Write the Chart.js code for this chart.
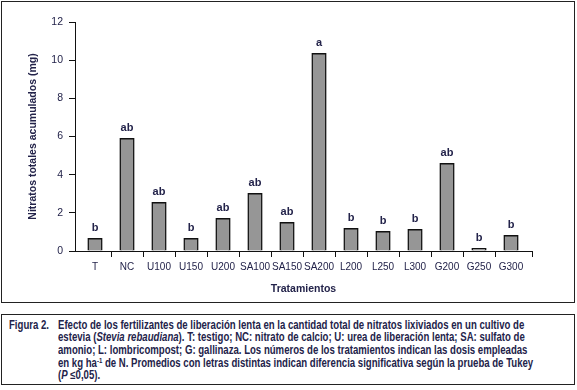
<!DOCTYPE html>
<html>
<head>
<meta charset="utf-8">
<script src="https://cdn.jsdelivr.net/npm/chart.js@4/dist/chart.umd.min.js"></script>
<style>
  body { margin: 0; background: #fff; font-family: "Liberation Sans", Arial, sans-serif; color: #23234a; }
  #wrap { position: relative; width: 577px; height: 390px; overflow: hidden; }
  #plotbox { position: absolute; left: 1px; top: 1px; width: 572px; height: 300px; border: 1px solid #222; }
  #chart { position: absolute; left: 0; top: 0; }
  #caption { position: absolute; left: 1px; top: 314px; width: 572px; height: 69px; border: 1px solid #222; font-size: 12px; font-weight: bold; line-height: 12.7px; }
  #caption .lbl { position: absolute; left: 7px; top: 3.5px; white-space: nowrap; transform: scaleX(0.8); transform-origin: 0 0; }
  #caption .txt { position: absolute; left: 56px; top: 3.5px; white-space: nowrap; transform: scaleX(0.8); transform-origin: 0 0; }
  sup { font-size: 7.5px; line-height: 0; vertical-align: 4px; }
</style>
</head>
<body>
<div id="wrap">
  <div id="plotbox"></div>
  <canvas id="chart" width="577" height="305"></canvas>
  <div id="caption">
    <span class="lbl">Figura 2.</span>
    <span class="txt">Efecto de los fertilizantes de liberación lenta en la cantidad total de nitratos lixiviados en un cultivo de<br>estevia (<i>Stevia rebaudiana</i>). T: testigo; NC: nitrato de calcio; U: urea de liberación lenta; SA: sulfato de<br>amonio; L: lombricompost; G: gallinaza. Los números de los tratamientos indican las dosis empleadas<br>en kg ha<sup>-1</sup> de N. Promedios con letras distintas indican diferencia significativa según la prueba de Tukey<br>(<i>P</i> ≤0,05).</span>
  </div>
</div>
<script>
// treatments and accumulated nitrate (mg)
let treatments = ['T', 'NC', 'U100', 'U150', 'U200', 'SA100', 'SA150', 'SA200', 'L200', 'L250', 'L300', 'G200', 'G250', 'G300'];
let nitrates = [0.67, 5.9, 2.55, 0.67, 1.71, 3.02, 1.5, 10.36, 1.19, 1.03, 1.14, 4.6, 0.14, 0.82];
let tukeyLetters = ['b', 'ab', 'ab', 'b', 'ab', 'ab', 'ab', 'a', 'b', 'b', 'b', 'ab', 'b', 'b'];
let yTicks = [0, 2, 4, 6, 8, 10, 12];

let inkColor = '#23234a';
let fontFamily = '"Liberation Sans", Arial, sans-serif';

// bars sit at 0..13 on a linear axis so the axis can run a bit past the outer bars
let xMin = -0.625;
let xMax = 13.656;

// letters of the Tukey test above each bar
const letterPlugin = {
    id: 'letters',
    afterDatasetsDraw(chart) {
        let ctx = chart.ctx;
        let meta = chart.getDatasetMeta(0);
        ctx.save();
        ctx.font = 'bold 11px ' + fontFamily;
        ctx.fillStyle = inkColor;
        ctx.textAlign = 'center';
        ctx.textBaseline = 'alphabetic';
        meta.data.forEach((bar, i) => {
            ctx.fillText(tukeyLetters[i], bar.x, bar.y - 7);
        });
        ctx.restore();
    }
};

let ctx = document.getElementById('chart').getContext('2d');
let nitrateChart = new Chart(ctx, {
    type: 'bar',
    data: {
        datasets: [{
            data: treatments.map((t, i) => ({ x: i, y: nitrates[i] })),
            backgroundColor: '#969696',
            borderColor: '#111',
            borderWidth: 1.5,
            barThickness: 14.5
        }]
    },
    options: {
        responsive: false,
        animation: false,
        devicePixelRatio: 1,
        layout: { padding: { left: 27, right: 45, top: 22, bottom: 9.4 } },
        plugins: { legend: { display: false }, tooltip: { enabled: false } },
        scales: {
            x: {
                type: 'linear',
                min: xMin,
                max: xMax,
                offset: false,
                afterBuildTicks: scale => {
                    let t = treatments.map((c, i) => ({ value: i }));
                    for (let i = 0; i < treatments.length - 1; i++) t.push({ value: i + 0.5 });
                    t.push({ value: xMax });
                    t.sort((a, b) => a.value - b.value);
                    scale.ticks = t;
                },
                afterFit: scale => { scale.height = 44.6; },
                grid: {
                    offset: false,
                    drawOnChartArea: false,
                    tickLength: 6,
                    tickWidth: 1,
                    tickColor: c => Number.isInteger(c.tick.value) ? 'rgba(0,0,0,0)' : '#111'
                },
                border: { color: '#111', width: 1 },
                ticks: {
                    autoSkip: false,
                    maxRotation: 0,
                    padding: 4,
                    color: inkColor,
                    font: { family: fontFamily, size: 10 },
                    callback: v => Number.isInteger(v) ? treatments[v] : ''
                },
                title: {
                    display: true,
                    text: 'Tratamientos',
                    color: inkColor,
                    padding: 0,
                    font: { family: fontFamily, size: 10.5, weight: 'bold' }
                }
            },
            y: {
                min: 0,
                max: 12,
                afterBuildTicks: scale => { scale.ticks = yTicks.map(v => ({ value: v })); },
                afterFit: scale => { scale.width = 48; },
                grid: { drawOnChartArea: false, tickLength: 6, color: '#111' },
                border: { color: '#111', width: 1 },
                ticks: {
                    padding: 6,
                    color: inkColor,
                    font: { family: fontFamily, size: 10.5 }
                },
                title: {
                    display: true,
                    text: 'Nitratos totales acumulados (mg)',
                    color: inkColor,
                    padding: 0,
                    font: { family: fontFamily, size: 10.5, weight: 'bold' }
                }
            }
        }
    },
    plugins: [letterPlugin]
});
</script>
</body>
</html>
